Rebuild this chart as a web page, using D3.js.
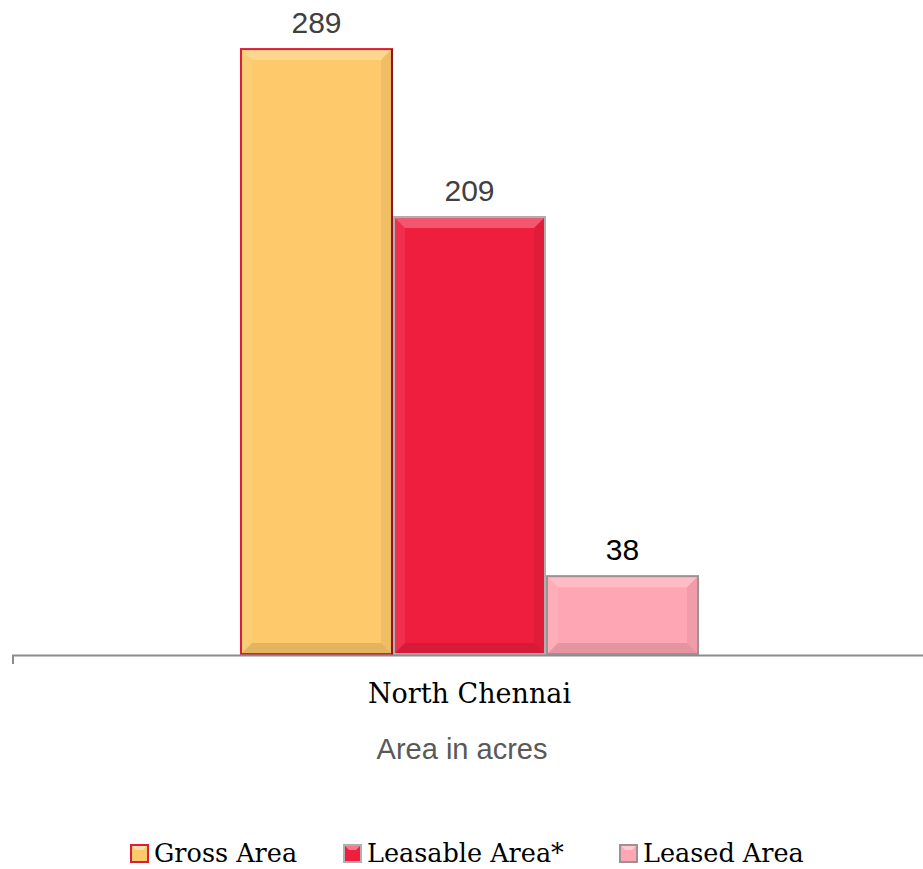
<!DOCTYPE html>
<html><head><meta charset="utf-8">
<script src="https://cdn.jsdelivr.net/npm/d3@7"></script>
<style>body{margin:0;background:#fff}svg{display:block}</style>
</head><body>
<script>
const categories = ["North Chennai"];
const seriesNames = ["Gross Area", "Leasable Area*", "Leased Area"];
const seriesValues = [289, 209, 38];
const seriesFill = ["#FDC96B", "#EF1E3F", "#FFA6B4"];
const seriesStroke = ["#D81E3A", "#B0B0B0", "#A09094"];
const labelColors = ["#404040", "#404040", "#000000"];
const axisTitle = "Area in acres";

const W = 923, H = 869;
const svg = d3.select("body").append("svg").attr("width", W).attr("height", H);

const x0 = d3.scaleBand().domain(categories).range([12, 927]).paddingInner(0).paddingOuter(0);
const x1 = d3.scaleBand().domain(seriesNames).range([0, x0.bandwidth()]).paddingInner(0).paddingOuter(1.49);
const y = d3.scaleLinear().domain([0, 300]).range([655, 25]);

// bars
const g = svg.append("g");
const bw = 12;
seriesNames.forEach((s, i) => {
  const v = seriesValues[i];
  const bx = x0(categories[0]) + x1(s);
  const w = x1.bandwidth();
  const top = y(v), bot = y(0), h = bot - top;
  const bar = g.append("g");
  bar.append("rect").attr("x", bx).attr("y", top).attr("width", w).attr("height", h)
    .attr("fill", seriesFill[i]);
  const b = Math.min(bw, h / 2);
  const poly = (pts, fill, op) => bar.append("polygon").attr("points", pts.map(p => p.join(",")).join(" ")).attr("fill", fill).attr("opacity", op);
  poly([[bx, top], [bx + w, top], [bx + w - b, top + b], [bx + b, top + b]], "#ffffff", 0.25);
  poly([[bx, top], [bx + b, top + b], [bx + b, bot - b], [bx, bot]], "#ffffff", 0.08);
  poly([[bx + w, top], [bx + w, bot], [bx + w - b, bot - b], [bx + w - b, top + b]], "#000000", 0.06);
  poly([[bx, bot], [bx + w, bot], [bx + w - b, bot - b], [bx + b, bot - b]], "#000000", 0.1);
  bar.append("rect").attr("x", bx + 1).attr("y", top + 1).attr("width", w - 2).attr("height", h - 2)
    .attr("fill", "none").attr("stroke", seriesStroke[i]).attr("stroke-width", 2);
  if (i === 0) {
    bar.append("line").attr("x1", bx + w - 1).attr("x2", bx + w - 1).attr("y1", top + 1).attr("y2", bot)
      .attr("stroke", "#8E1424").attr("stroke-width", 2);
  }
  svg.append("text").attr("x", bx + w / 2).attr("y", top - 15)
    .attr("text-anchor", "middle").attr("font-family", "Liberation Sans, Arial, sans-serif")
    .attr("font-size", 30).attr("fill", labelColors[i]).text(v);
});

// axis
const xAxis = d3.axisBottom(x0).tickSize(0).tickFormat("");
const ax = svg.append("g").attr("transform", `translate(0,${y(0)})`).call(xAxis);
ax.select(".domain").remove();
svg.append("line").attr("x1", 12).attr("x2", W).attr("y1", y(0) + 0.5).attr("y2", y(0) + 0.5)
  .attr("stroke", "#8C8C8C").attr("stroke-width", 2);
svg.append("line").attr("x1", 13).attr("x2", 13).attr("y1", y(0)).attr("y2", y(0) + 9)
  .attr("stroke", "#8C8C8C").attr("stroke-width", 2);

svg.append("text").attr("x", x0(categories[0]) + x0.bandwidth() / 2).attr("y", 703)
  .attr("text-anchor", "middle").attr("font-family", "DejaVu Serif, serif")
  .attr("font-size", 27).attr("fill", "#000").text(categories[0]);

svg.append("text").attr("x", 462).attr("y", 759)
  .attr("text-anchor", "middle").attr("font-family", "Liberation Sans, Arial, sans-serif")
  .attr("font-size", 29).attr("fill", "#595959").text(axisTitle);

// legend
const legX = [131, 344, 620];
const lg = svg.append("g");
seriesNames.forEach((s, i) => {
  const lx = legX[i], ly = 845;
  lg.append("rect").attr("x", lx).attr("y", ly).attr("width", 17).attr("height", 17)
    .attr("fill", seriesFill[i]).attr("stroke", seriesStroke[i]).attr("stroke-width", 2);
  lg.append("polygon").attr("points", `${lx+1},${ly+1} ${lx+16},${ly+1} ${lx+12},${ly+5} ${lx+5},${ly+5}`).attr("fill", "#fff").attr("opacity", 0.4);
  lg.append("text").attr("x", lx + 23).attr("y", 862)
    .attr("font-family", "DejaVu Serif, serif").attr("font-size", 25.5).attr("fill", "#000").text(s);
});
</script>
</body></html>
